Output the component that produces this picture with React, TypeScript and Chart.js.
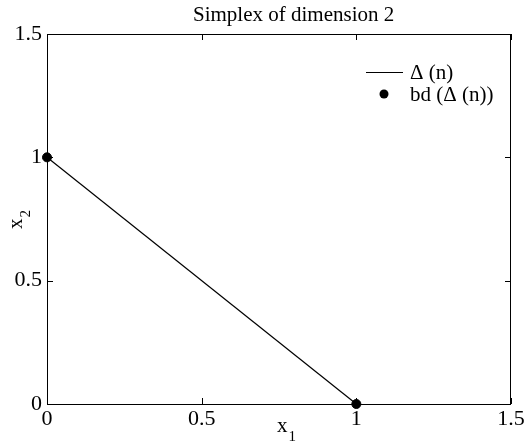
import React, { useEffect, useRef } from "react";
import { Chart, registerables } from "chart.js";

Chart.register(...registerables);

const simplexX = [0, 1];
const simplexY = [1, 0];
const boundaryX = [0, 1];
const boundaryY = [1, 0];
const tickValues = [0, 0.5, 1, 1.5];
const tickLabels = ["0", "0.5", "1", "1.5"];
const titleText = "Simplex of dimension 2";
const legendLabels = ["\u0394 (n)", "bd (\u0394 (n))"];

const FONT = "'Liberation Serif', 'DejaVu Serif', serif";
const FS = 21;

const decorPlugin = {
  id: "decor",
  afterDraw(chart: any) {
    const { ctx, chartArea } = chart;
    const { left, right, top, bottom } = chartArea;
    const xs = chart.scales.x;
    const ys = chart.scales.y;
    ctx.save();
    ctx.strokeStyle = "#000";
    ctx.lineWidth = 1;
    ctx.strokeRect(left + 0.5, top + 0.5, right - left - 1, bottom - top);
    const tl = 6;
    ctx.beginPath();
    tickValues.forEach((v) => {
      const px = Math.round(xs.getPixelForValue(v)) + 0.5;
      ctx.moveTo(px, bottom);
      ctx.lineTo(px, bottom - tl);
      ctx.moveTo(px, top);
      ctx.lineTo(px, top + tl);
      const py = Math.round(ys.getPixelForValue(v)) + 0.5;
      ctx.moveTo(left, py);
      ctx.lineTo(left + tl, py);
      ctx.moveTo(right, py);
      ctx.lineTo(right - tl, py);
    });
    ctx.stroke();

    ctx.fillStyle = "#000";
    // title
    ctx.font = `${FS}px ${FONT}`;
    ctx.textAlign = "left";
    ctx.textBaseline = "alphabetic";
    ctx.fillText(titleText, 193, 21);

    // x label x1
    ctx.font = `${FS}px ${FONT}`;
    const wx = ctx.measureText("x").width;
    ctx.fillText("x", 277, 432);
    ctx.font = `15px ${FONT}`;
    ctx.fillText("1", 277 + wx + 1, 441);

    // y label x2 rotated
    ctx.save();
    ctx.translate(22, (top + bottom) / 2);
    ctx.rotate(-Math.PI / 2);
    ctx.font = `${FS}px ${FONT}`;
    ctx.fillText("x", -10, 0);
    ctx.font = `15px ${FONT}`;
    ctx.fillText("2", -10 + wx + 1, 8);
    ctx.restore();

    // legend
    ctx.font = `${FS}px ${FONT}`;
    ctx.textAlign = "left";
    ctx.textBaseline = "alphabetic";
    ctx.beginPath();
    ctx.moveTo(366, 72.5);
    ctx.lineTo(403, 72.5);
    ctx.stroke();
    ctx.fillText(legendLabels[0], 410, 79);
    ctx.beginPath();
    ctx.arc(384, 94, 4.5, 0, Math.PI * 2);
    ctx.fill();
    ctx.fillText(legendLabels[1], 410, 101);
    ctx.restore();
  },
};

export default function App() {
  const ref = useRef<HTMLCanvasElement>(null);
  useEffect(() => {
    document.body.style.margin = "0";
    const chart = new Chart(ref.current!, {
      type: "scatter",
      data: {
        datasets: [
          {
            label: legendLabels[0],
            data: simplexX.map((x, i) => ({ x, y: simplexY[i] })),
            showLine: true,
            borderColor: "#000",
            borderWidth: 1.2,
            pointRadius: 0,
            clip: false as any,
          },
          {
            label: legendLabels[1],
            data: boundaryX.map((x, i) => ({ x, y: boundaryY[i] })),
            showLine: false,
            backgroundColor: "#000",
            borderColor: "#000",
            pointRadius: 4.5,
            clip: false as any,
          },
        ],
      },
      options: {
        animation: false,
        responsive: false,
        maintainAspectRatio: false,
        layout: { padding: { left: 0, right: 17, top: 34, bottom: 0 } },
        plugins: {
          legend: { display: false },
          title: { display: false },
          tooltip: { enabled: false },
        },
        scales: {
          x: {
            type: "linear",
            min: 0,
            max: 1.5,
            afterFit: (s: any) => {
              s.height = 40;
            },
            afterBuildTicks: (s: any) => {
              s.ticks = tickValues.map((v) => ({ value: v }));
            },
            ticks: {
              callback: (v: any) => tickLabels[tickValues.indexOf(Number(v))] ?? "",
              font: { family: FONT, size: 22 },
              color: "#000",
              padding: 2,
              maxRotation: 0,
              autoSkip: false,
            },
            grid: { display: false, drawTicks: false },
            border: { display: false },
          },
          y: {
            type: "linear",
            min: 0,
            max: 1.5,
            afterFit: (s: any) => {
              s.width = 47;
            },
            afterBuildTicks: (s: any) => {
              s.ticks = tickValues.map((v) => ({ value: v }));
            },
            ticks: {
              callback: (v: any) => tickLabels[tickValues.indexOf(Number(v))] ?? "",
              font: { family: FONT, size: 22 },
              color: "#000",
              padding: 5,
              autoSkip: false,
            },
            grid: { display: false, drawTicks: false },
            border: { display: false },
          },
        },
      },
      plugins: [decorPlugin],
    });
    return () => chart.destroy();
  }, []);
  return (
    <div style={{ position: "absolute", left: 0, top: 0, width: 528, height: 444, background: "#fff" }}>
      <canvas ref={ref} width={528} height={444} />
    </div>
  );
}
